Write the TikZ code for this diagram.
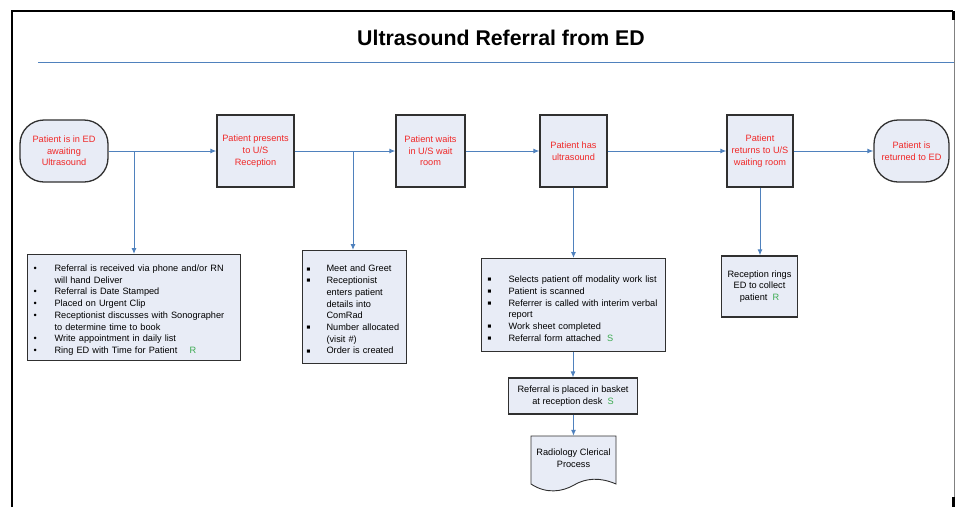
\documentclass[tikz,border=0pt]{standalone}
\usepackage{fontspec}
\setmainfont{Liberation Sans}
\usetikzlibrary{arrows.meta}
\hyphenpenalty=10000
\exhyphenpenalty=10000
\definecolor{connc}{HTML}{4F81BD}
\definecolor{boxfill}{HTML}{E8ECF6}
\definecolor{boxline}{HTML}{303030}
\definecolor{txtred}{HTML}{F02828}
\definecolor{grn}{HTML}{3BAA50}
\newcommand\gr[1]{\textcolor{grn}{#1}}
\newcommand\bli[1]{\par\hangindent=21pt\hangafter=1\noindent\makebox[21pt][l]{\textbullet}#1}
\newcommand\sqi[2][21pt]{\par\hangindent=#1\hangafter=1\noindent\makebox[#1][l]{\raisebox{0.8pt}{\scalebox{0.7}{■}}}#2}
\tikzset{
  every node/.style={font=\fontsize{9.2}{11.7}\selectfont},
  proc/.style={draw=boxline, line width=1.3pt, fill=boxfill, text=txtred, align=center, inner sep=1pt},
  term/.style={proc, rounded corners=24pt},
  listbox/.style={draw=boxline, line width=1.1pt, fill=boxfill, text=black, align=left, anchor=north west, inner xsep=6pt, inner ysep=0pt},
  conn/.style={draw=connc, line width=1pt},
  arr/.style={conn, -{Latex[length=6pt,width=5pt]}},
}
\begin{document}
\begin{tikzpicture}[x=1pt,y=-1pt]
\useasboundingbox (0,0) rectangle (959,507);
% frame
\draw[line width=2.5pt] (12,507) -- (12,11) -- (953,11);
\draw[gray, line width=1pt] (954,11) -- (954,500);
\fill (951.5,11) rectangle (954.5,20);
\fill (951.5,497) rectangle (954.5,507);
% title
\node[font=\fontsize{21.3}{24}\selectfont\bfseries] (title) at (501,38) {Ultrasound Referral from ED};
\draw[connc, line width=1pt] (38,62) -- (954,62);

% main flow
\node[term, minimum width=88pt, minimum height=62pt] (start) at (64,151) {Patient is in ED\\awaiting\\Ultrasound};
\node[proc, minimum width=77pt, minimum height=72pt] (b1) at (255.5,151) {Patient presents\\to U/S\\Reception};
\node[proc, minimum width=69pt, minimum height=72pt] (b2) at (430.5,151) {Patient waits\\in U/S wait\\room};
\node[proc, minimum width=67pt, minimum height=72pt] (b3) at (573.5,151) {Patient has\\ultrasound};
\node[proc, minimum width=66pt, minimum height=72pt] (b4) at (760,151) {Patient\\returns to U/S\\waiting room};
\node[term, minimum width=75pt, minimum height=62pt] (end) at (911.5,151) {Patient is\\returned to ED};

\draw[arr] (start) -- (b1);
\draw[arr] (b1) -- (b2);
\draw[arr] (b2) -- (b3);
\draw[arr] (b3) -- (b4);
\draw[arr] (b4) -- (end);

% lists
\node[listbox, text width=201pt, minimum height=106pt] (l1) at (27,254) {%
\bli{Referral is received via phone and/or RN\newline will hand Deliver}
\bli{Referral is Date Stamped}
\bli{Placed on Urgent Clip}
\bli{Receptionist discusses with Sonographer\newline to determine time to book}
\bli{Write appointment in daily list}
\bli{Ring ED with Time for Patient \quad\gr{R}}};

\node[listbox, inner xsep=4pt, text width=96pt, minimum height=113pt] (l2) at (302,250) {%
\sqi[20pt]{Meet and Greet}
\sqi[20pt]{Receptionist\newline enters patient\newline details into\newline ComRad}
\sqi[20pt]{Number allocated\newline (visit \#)}
\sqi[20pt]{Order is created}};

\node[listbox, text width=172pt, minimum height=93pt] (l3) at (481,258) {%
\vspace{2pt}
\sqi{Selects patient off modality work list}
\sqi{Patient is scanned}
\sqi{Referrer is called with interim verbal\newline report}
\sqi{Work sheet completed}
\sqi{Referral form attached \ \gr{S}}};

\node[proc, text=black, minimum width=76pt, minimum height=61pt] (rr) at (759.5,286.5) {Reception rings\\ED to collect\\patient \ \gr{R}};

\node[proc, line width=1.1pt, text=black, minimum width=129pt, minimum height=36pt] (bask) at (573,396) {Referral is placed in basket\\at reception desk \ \gr{S}};

% document shape
\draw[boxline, fill=boxfill, line width=0.9pt] (531,436) -- (616,436) -- (616,484)
  .. controls (600,477) and (586,478) .. (574,485)
  .. controls (562,492) and (546,494) .. (531,484) -- cycle;
\node[text=black, align=center, minimum width=85pt, minimum height=44pt, inner sep=0pt] (doc) at (573.5,458) {Radiology Clerical\\Process};

% branch connectors
\coordinate (j1) at (134,151);
\coordinate (j2) at (353,151);
\draw[arr] (j1) -- (j1 |- l1.north);
\draw[arr] (j2) -- (j2 |- l2.north);
\draw[arr] (b3) -- (b3 |- l3.north);
\draw[arr] (b4) -- (b4 |- rr.north);
\draw[arr] (l3.south -| bask) -- (bask);
\draw[arr] (bask.south -| doc) -- (doc);
\end{tikzpicture}
\end{document}
